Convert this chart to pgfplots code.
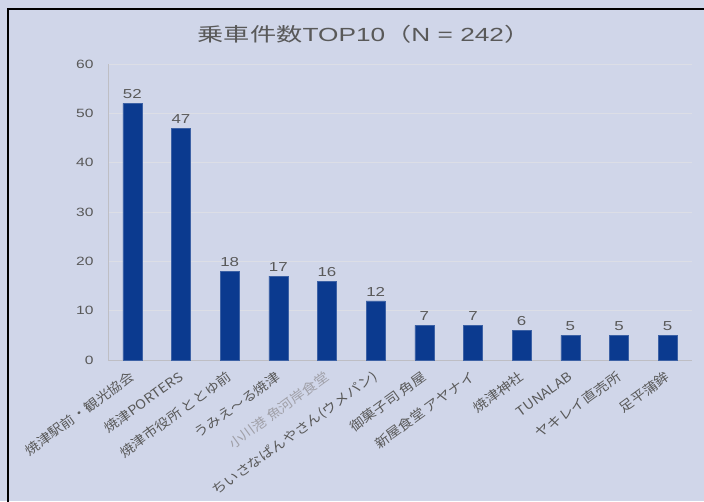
\documentclass[border=0pt]{standalone}
\usepackage{fontspec}
\setmainfont{Liberation Sans}[FakeStretch=1.3]
\newfontfamily\jp{Noto Sans CJK JP}[FakeStretch=1.3]
\newfontfamily\titlelat{Liberation Sans}[FakeStretch=1.38]
\newfontfamily\titlejp{Noto Sans CJK JP}[FakeStretch=1.38]
\newfontfamily\jpl{Noto Sans CJK JP}[FakeStretch=1.12]
\usepackage{pgfplots}
\pgfplotsset{compat=1.18}
\definecolor{bg}{RGB}{208,214,233}
\definecolor{barblue}{RGB}{11,58,143}
\definecolor{txt}{RGB}{89,89,89}
\definecolor{lighttxt}{RGB}{160,160,168}
\definecolor{grd}{RGB}{220,222,230}
\definecolor{axl}{RGB}{190,190,196}

\begin{document}
\begin{tikzpicture}[x=1pt,y=1pt]
\fill[bg] (0,0) rectangle (704,501);
\useasboundingbox (0,0) rectangle (704,501);
\draw[black, line width=2pt] (7.5,-5) -- (7.5,492) -- (710,492);
\node[txt, font=\fontsize{19}{22}\selectfont] at (364,467)
  {{\titlejp 乗車件数}{\titlelat TOP10}{\titlejp （}{\titlelat N = 242}{\titlejp ）}};
\begin{axis}[
    at={(108pt,141pt)}, anchor=south west,
    width=584pt, height=296pt, scale only axis,
    xmin=-0.5, xmax=11.5, ymin=0, ymax=60,
    ytick={0,10,...,60},
    xtick={0,...,11},
    xticklabels={
      焼津駅前・観光協会,
      焼津PORTERS,
      焼津市役所 ととゆ前,
      うみえ～る焼津,
      {\color{lighttxt}小川港 魚河岸食堂},
      ちいさなぱんやさん(ウメパン),
      御菓子司 角屋,
      新屋食堂 アヤナイ,
      焼津神社,
      TUNALAB,
      ヤキレイ直売所,
      足平蒲鉾},
    axis x line*=bottom, axis y line*=left,
    axis line style={-, draw=axl, line width=0.8pt},
    ymajorgrids, grid style={draw=grd, line width=0.8pt},
    major tick length=0pt,
    tick style={draw=none},
    /pgf/number format/assume math mode=true,
    yticklabel style={font=\fontsize{12}{12}\selectfont, text=txt, xshift=-11pt},
    xticklabel style={xshift=3pt, yshift=-13pt, rotate=36, anchor=east,
      font=\jpl\fontsize{13}{13}\selectfont, text=txt},
    ybar, bar width=0.39,
    nodes near coords,
    every node near coord/.append style={font=\fontsize{13}{13}\selectfont, text=txt, yshift=1pt},
  ]
  \addplot[fill=barblue, draw=barblue!80!white, line width=0.4pt] coordinates {
    (0,52) (1,47) (2,18) (3,17) (4,16) (5,12)
    (6,7) (7,7) (8,6) (9,5) (10,5) (11,5)};
\end{axis}
\end{tikzpicture}
\end{document}
